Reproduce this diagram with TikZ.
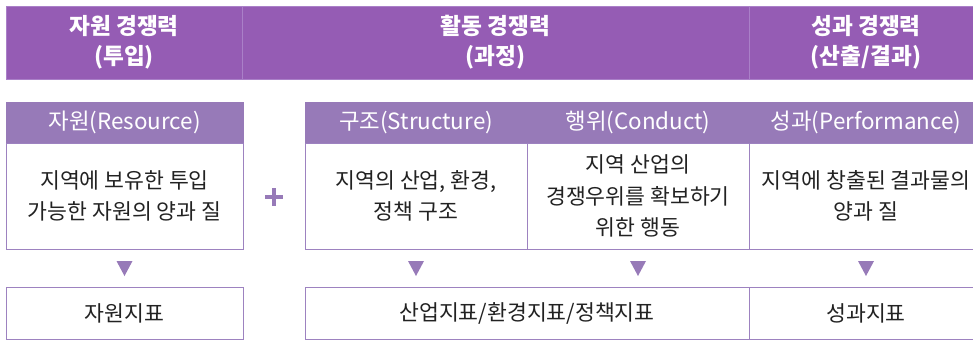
\documentclass[tikz,border=0pt]{standalone}
\usepackage{fontspec}
\setmainfont{Noto Sans CJK KR}
\usetikzlibrary{positioning}

\definecolor{headpurple}{RGB}{149,92,180}
\definecolor{headedge}{RGB}{170,128,200}
\definecolor{barpurple}{RGB}{151,122,184}
\definecolor{linepurple}{RGB}{157,130,192}
\definecolor{textgray}{RGB}{34,34,34}

\newcommand\headfnt{\fontsize{17}{22.5}\selectfont\bfseries}
\newcommand\cellfnt{\fontsize{16.2}{23.5}\selectfont}
\newcommand\barfnt{\fontsize{16.8}{20}\selectfont}

\begin{document}
\begin{tikzpicture}[x=0.75pt,y=0.75pt,yscale=-1,xscale=1,
  every node/.style={inner sep=0pt,outer sep=0pt},
  headcell/.style={fill=headpurple,draw=headedge,line width=0.6pt,text=white,font=\headfnt,align=center,minimum height=54.75pt},
  barcell/.style={fill=barpurple,draw=barpurple,line width=0.6pt,text=white,font=\barfnt,minimum height=30.75pt},
  bodycell/.style={fill=white,draw=linepurple,line width=0.75pt,text=textgray,font=\cellfnt,align=center,minimum height=79.5pt},
  indexcell/.style={fill=white,draw=linepurple,line width=0.75pt,text=textgray,font=\cellfnt,minimum height=39pt},
  marker/.style={fill=barpurple}
]
\useasboundingbox (0,0) rectangle (973,340);

% header row
\node[headcell,minimum width=177pt] (headres) at (124,42.5) {자원 경쟁력\\(투입)};
\node[headcell,minimum width=380.25pt] (headact) at (495.5,42.5) {활동 경쟁력\\(과정)};
\node[headcell,minimum width=175.5pt] (headout) at (866,42.5) {성과 경쟁력\\(산출/결과)};

% label bars
\node[barcell,minimum width=177.75pt] (barres) at (124.5,122.5) {자원(Resource)};
\node[barcell,minimum width=166.5pt] (barstr) at (416,122.5) {구조(Structure)};
\node[barcell,minimum width=166.5pt] (barcon) at (638,122.5) {행위(Conduct)};
\node[barcell,minimum width=175.5pt] (barper) at (866,122.5) {성과(Performance)};

% descriptions
\node[bodycell,minimum width=177.75pt,below=0pt of barres] (bodyres) {지역에 보유한 투입\\가능한 자원의 양과 질};
\node[bodycell,minimum width=166.5pt,below=0pt of barstr] (bodystr) {지역의 산업, 환경,\\정책 구조};
\node[bodycell,minimum width=166.5pt,below=0pt of barcon] (bodycon) {지역 산업의\\경쟁우위를 확보하기\\위한 행동};
\node[bodycell,minimum width=175.5pt,below=0pt of barper] (bodyper) {지역에 창출된 결과물의\\양과 질};

% plus sign
\draw[barpurple,line width=3pt] (265,197) -- (283,197) (274,188) -- (274,206);

% markers
\foreach \n in {bodyres,bodystr,bodycon,bodyper}
  \fill[marker] (\n.south) ++(-8,12) -- ++(16,0) -- ++(-8,15) -- cycle;

% indicators
\node[indexcell,minimum width=177.75pt] (idxres) at (124.5,313) {자원지표};
\node[indexcell,minimum width=333pt] (idxact) at (527,313) {산업지표/환경지표/정책지표};
\node[indexcell,minimum width=175.5pt] (idxout) at (866,313) {성과지표};

\end{tikzpicture}
\end{document}
